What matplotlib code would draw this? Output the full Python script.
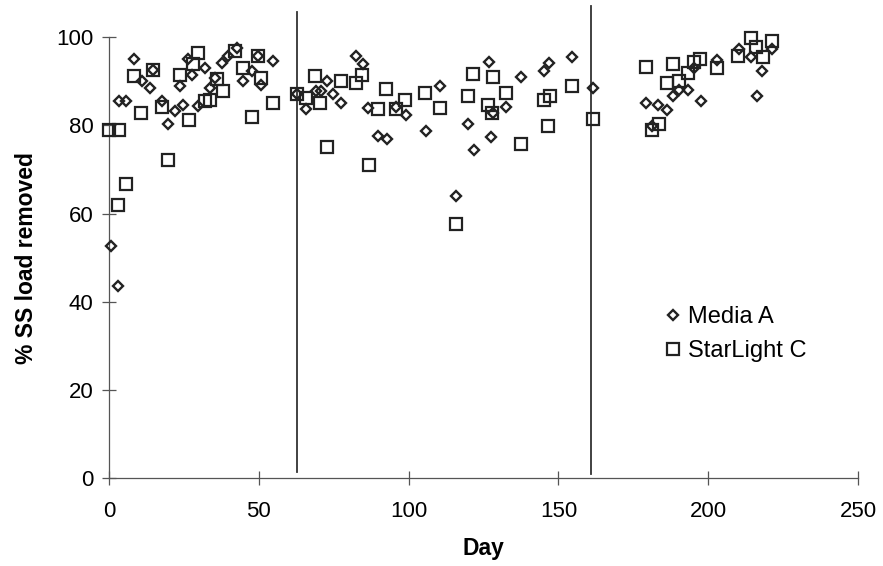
import matplotlib
matplotlib.use("Agg")
import matplotlib.pyplot as plt

plt.rcParams['font.family'] = ['Liberation Sans', 'DejaVu Sans']

# Media A (diamonds)
media_a_day = [0.7, 2.9, 3.3, 5.6, 8.4, 10.9, 13.7, 14.8, 17.6, 19.6, 22.0, 23.7,
               24.8, 26.4, 27.6, 29.8, 32.0, 33.7, 35.3, 37.6, 39.8, 42.6, 44.8,
               47.6, 49.8, 50.9, 54.8,
               62.6, 65.7, 69.2, 70.9, 72.8, 74.8, 77.6, 82.6, 84.8, 86.4, 89.8,
               92.8, 95.9, 99.0, 105.7, 110.6, 115.9, 119.8, 121.7, 126.8, 128.1,
               127.6, 132.6, 137.6, 145.3, 146.8, 154.6, 161.4,
               179.2, 181.4, 183.4, 186.4, 188.3, 190.3, 193.4, 195.3, 197.6,
               203.1, 210.3, 214.2, 216.4, 218.1, 221.2]
media_a_val = [52.6, 43.7, 85.4, 85.4, 95.1, 90.0, 88.5, 92.6, 85.4, 80.2, 83.2, 88.9,
               84.7, 95.1, 91.5, 84.3, 93.0, 88.5, 90.7, 94.1, 95.6, 97.5, 90.0,
               92.2, 95.6, 89.2, 94.5,
               87.0, 83.6, 87.7, 87.7, 90.0, 87.0, 85.1, 95.6, 93.8, 83.9, 77.5,
               76.8, 84.2, 82.4, 78.6, 89.0, 64.1, 80.2, 74.5, 94.3, 82.8,
               77.4, 84.2, 91.0, 92.2, 94.1, 95.5, 88.5,
               85.1, 79.9, 84.5, 83.4, 86.7, 88.1, 88.1, 93.0, 85.6,
               94.7, 97.2, 95.5, 86.7, 92.2, 97.2]

# StarLight C (squares)
starlight_day = [0.0, 3.3, 2.9, 5.6, 8.4, 10.7, 14.8, 17.6, 19.6, 23.7, 26.8, 28.1,
                 29.8, 32.0, 33.7, 35.9, 38.1, 42.0, 44.8, 47.6, 49.8, 50.9, 54.8,
                 62.6, 65.9, 68.7, 70.3, 72.8, 77.6, 82.6, 84.6, 86.8, 89.8, 92.6,
                 95.9, 98.7, 105.6, 110.6, 115.7, 119.8, 121.4, 126.6, 127.9, 128.3,
                 132.6, 137.6, 145.3, 146.4, 147.2, 154.6, 161.4,
                 179.2, 181.4, 183.7, 186.1, 188.3, 190.1, 193.1, 195.3, 197.2,
                 203.1, 210.1, 214.2, 216.1, 218.3, 221.2]
starlight_val = [79.0, 79.0, 62.0, 66.8, 91.1, 82.9, 92.6, 84.2, 72.2, 91.5, 81.1, 93.8,
                 96.4, 85.4, 85.8, 90.4, 87.7, 96.8, 93.0, 81.9, 95.6, 90.7, 85.1,
                 87.0, 86.2, 91.1, 85.1, 75.2, 90.0, 89.6, 91.5, 70.9, 83.7, 88.3,
                 83.7, 85.8, 87.3, 83.9, 57.7, 86.7, 91.7, 84.7, 82.9, 91.0,
                 87.3, 75.8, 85.7, 79.9, 86.7, 89.0, 81.4,
                 93.2, 79.0, 80.4, 89.6, 93.8, 90.0, 91.9, 94.3, 95.1,
                 93.0, 95.8, 99.8, 97.8, 95.5, 99.0]

phase_days = [62.8, 160.9]

fig = plt.figure(figsize=(8.83, 5.66), dpi=100)
ax = fig.add_axes([0.1234, 0.1546, 0.8483, 0.78])

ax.plot(starlight_day, starlight_val, 's', ms=8.5, mfc='none', mec='#222222',
        mew=1.6, clip_on=False, label='StarLight C', zorder=3)
ax.plot(media_a_day, media_a_val, 'D', ms=5.6, mfc='none', mec='#222222',
        mew=1.7, clip_on=False, label='Media A', zorder=4)

# phase boundaries
ax.plot([phase_days[0]] * 2, [1.5, 105.6], color='#333333', lw=1.3, clip_on=False)
ax.plot([phase_days[1]] * 2, [1.0, 107.0], color='#333333', lw=1.3, clip_on=False)

ax.set_xlim(0, 250)
ax.set_ylim(0, 100)
ax.set_xticks([0, 50, 100, 150, 200, 250])
ax.set_yticks([0, 20, 40, 60, 80, 100])
for s in ['top', 'right']:
    ax.spines[s].set_visible(False)
for s in ['left', 'bottom']:
    ax.spines[s].set_color('#555555')
    ax.spines[s].set_linewidth(0.9)
ax.tick_params(direction='inout', length=10, width=0.9, color='#555555',
               labelsize=16)
ax.tick_params(axis='y', pad=6)
ax.tick_params(axis='x', pad=11)

ax.set_xlabel('Day', fontsize=16.5, fontweight='bold', labelpad=11)
ax.set_ylabel('% SS load removed', fontsize=16.5, fontweight='bold', labelpad=13)

handles, labels = ax.get_legend_handles_labels()
ax.legend(handles[::-1], labels[::-1], loc='upper left', bbox_to_anchor=(0.74, 0.391),
          frameon=False, fontsize=17, handletextpad=0.25, handlelength=0.8,
          labelspacing=0.53, borderaxespad=0, borderpad=0)

fig.savefig('out.png', dpi=100)
